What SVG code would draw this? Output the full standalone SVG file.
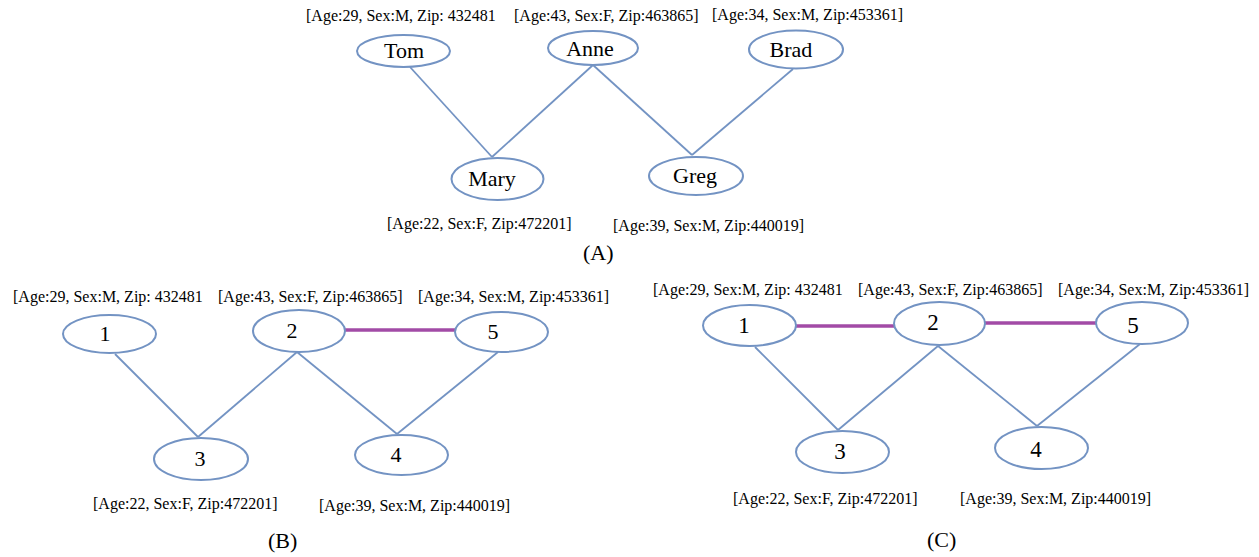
<svg xmlns="http://www.w3.org/2000/svg" width="1259" height="557" viewBox="0 0 1259 557">
  <style>
    .node ellipse { fill: #ffffff; stroke: #7393c3; stroke-width: 2; }
    .node text.name { font-family: "Liberation Serif", "Times New Roman", serif; font-size: 22px; fill: #000; text-anchor: middle; }
    .attr { font-family: "Liberation Serif", "Times New Roman", serif; font-size: 16px; fill: #000; }
    .caption { font-family: "Liberation Serif", "Times New Roman", serif; font-size: 22px; fill: #000; }
    .edge { stroke: #7393c3; stroke-width: 1.8; fill: none; }
    .link { stroke: #a24ba6; stroke-width: 3.5; fill: none; }
  </style>
  <rect width="1259" height="557" fill="#ffffff"/>

  <!-- Graph A: named individuals -->
  <g id="edges-a">
    <line class="edge" x1="410" y1="67" x2="492" y2="157"/>
    <line class="edge" x1="593" y1="65" x2="492" y2="157"/>
    <line class="edge" x1="593" y1="65" x2="692" y2="155"/>
    <line class="edge" x1="793" y1="69" x2="692" y2="155"/>
  </g>
  <g id="a-tom" class="node">
    <ellipse cx="403.5" cy="51" rx="46.5" ry="16"/>
    <text class="name" x="404" y="58">Tom</text>
  </g>
  <g id="a-anne" class="node">
    <ellipse cx="593" cy="48" rx="45" ry="17"/>
    <text class="name" x="590" y="56">Anne</text>
  </g>
  <g id="a-brad" class="node">
    <ellipse cx="796" cy="49.5" rx="47" ry="19"/>
    <text class="name" x="791" y="57">Brad</text>
  </g>
  <g id="a-mary" class="node">
    <ellipse cx="497.5" cy="179" rx="46" ry="21"/>
    <text class="name" x="492" y="186">Mary</text>
  </g>
  <g id="a-greg" class="node">
    <ellipse cx="696" cy="176" rx="47" ry="19"/>
    <text class="name" x="695" y="183">Greg</text>
  </g>
  <g id="labels-a">
    <text class="attr" x="306" y="21">[Age:29, Sex:M, Zip: 432481</text>
    <text class="attr" x="514" y="21">[Age:43, Sex:F, Zip:463865]</text>
    <text class="attr" x="712" y="20">[Age:34, Sex:M, Zip:453361]</text>
    <text class="attr" x="387" y="229">[Age:22, Sex:F, Zip:472201]</text>
    <text class="attr" x="613" y="231">[Age:39, Sex:M, Zip:440019]</text>
    <text class="caption" x="583" y="260">(A)</text>
  </g>

  <!-- Graph B: anonymised, one added link -->
  <g id="edges-b">
    <line class="edge" x1="115" y1="354" x2="198" y2="437"/>
    <line class="edge" x1="297" y1="352" x2="198" y2="437"/>
    <line class="edge" x1="297" y1="352" x2="397" y2="434"/>
    <line class="edge" x1="498" y1="352" x2="397" y2="434"/>
    <line class="link" x1="345" y1="330" x2="455" y2="330"/>
  </g>
  <g id="b-1" class="node">
    <ellipse cx="109.5" cy="334" rx="46.5" ry="19"/>
    <text class="name" x="105" y="341">1</text>
  </g>
  <g id="b-2" class="node">
    <ellipse cx="299" cy="331" rx="46" ry="21"/>
    <text class="name" x="292" y="338">2</text>
  </g>
  <g id="b-5" class="node">
    <ellipse cx="501.5" cy="332" rx="46.5" ry="20"/>
    <text class="name" x="493" y="339">5</text>
  </g>
  <g id="b-3" class="node">
    <ellipse cx="201" cy="459" rx="47" ry="21"/>
    <text class="name" x="200" y="466">3</text>
  </g>
  <g id="b-4" class="node">
    <ellipse cx="401.5" cy="455" rx="46.5" ry="20"/>
    <text class="name" x="396" y="462">4</text>
  </g>
  <g id="labels-b">
    <text class="attr" x="13" y="302">[Age:29, Sex:M, Zip: 432481</text>
    <text class="attr" x="218" y="302">[Age:43, Sex:F, Zip:463865]</text>
    <text class="attr" x="418" y="302">[Age:34, Sex:M, Zip:453361]</text>
    <text class="attr" x="93" y="509">[Age:22, Sex:F, Zip:472201]</text>
    <text class="attr" x="319" y="511">[Age:39, Sex:M, Zip:440019]</text>
    <text class="caption" x="268" y="548">(B)</text>
  </g>

  <!-- Graph C: anonymised, two added links -->
  <g id="edges-c">
    <line class="edge" x1="755" y1="347" x2="838" y2="430"/>
    <line class="edge" x1="938" y1="346" x2="838" y2="430"/>
    <line class="edge" x1="938" y1="346" x2="1037" y2="426"/>
    <line class="edge" x1="1140" y1="344" x2="1037" y2="426"/>
    <line class="link" x1="796" y1="326" x2="894" y2="326"/>
    <line class="link" x1="985" y1="323" x2="1096" y2="323"/>
  </g>
  <g id="c-1" class="node">
    <ellipse cx="749.5" cy="325.5" rx="46.5" ry="20.5"/>
    <text class="name" x="744" y="333" style="font-size:23px">1</text>
  </g>
  <g id="c-2" class="node">
    <ellipse cx="939.5" cy="323.5" rx="45.5" ry="21.5"/>
    <text class="name" x="933" y="330" style="font-size:23px">2</text>
  </g>
  <g id="c-5" class="node">
    <ellipse cx="1142" cy="323" rx="46" ry="21"/>
    <text class="name" x="1133" y="333" style="font-size:23px">5</text>
  </g>
  <g id="c-3" class="node">
    <ellipse cx="842.5" cy="452" rx="46.5" ry="21"/>
    <text class="name" x="840" y="459" style="font-size:23px">3</text>
  </g>
  <g id="c-4" class="node">
    <ellipse cx="1041.5" cy="448" rx="46.5" ry="21"/>
    <text class="name" x="1036" y="457" style="font-size:23px">4</text>
  </g>
  <g id="labels-c">
    <text class="attr" x="653" y="295">[Age:29, Sex:M, Zip: 432481</text>
    <text class="attr" x="858" y="295">[Age:43, Sex:F, Zip:463865]</text>
    <text class="attr" x="1058" y="295">[Age:34, Sex:M, Zip:453361]</text>
    <text class="attr" x="733" y="504">[Age:22, Sex:F, Zip:472201]</text>
    <text class="attr" x="960" y="504">[Age:39, Sex:M, Zip:440019]</text>
    <text class="caption" x="927" y="547">(C)</text>
  </g>
</svg>
